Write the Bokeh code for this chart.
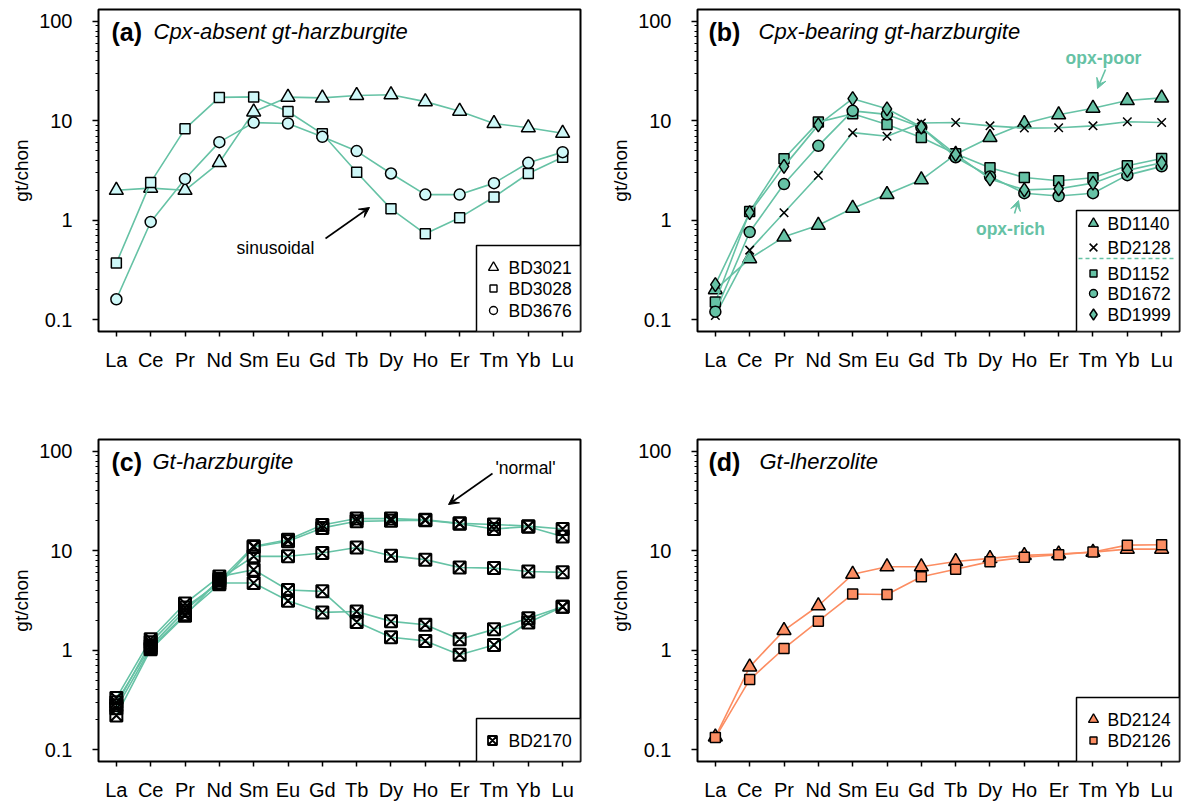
from bokeh.plotting import figure
from bokeh.layouts import gridplot
from bokeh.models import Range1d, FixedTicker, CustomJSTickFormatter, Arrow, VeeHead, Label
from bokeh.embed import file_html
from bokeh.resources import INLINE
from bokeh.core.properties import value

# ---------------------------------------------------------------- data
ELEMENTS = ["La", "Ce", "Pr", "Nd", "Sm", "Eu", "Gd", "Tb", "Dy", "Ho", "Er", "Tm", "Yb", "Lu"]
Y_TICKS = [0.1, 1, 10, 100]
Y_TICK_LABELS = ["0.1", "1", "10", "100"]

# (a) Cpx-absent gt-harzburgite
A_NAMES = ["BD3021", "BD3028", "BD3676"]
BD3021 = [2.0, 2.1, 2.0, 3.8, 12.3, 17.3, 17.0, 18.0, 18.3, 15.6, 12.5, 9.4, 8.5, 7.5]
BD3028 = [0.37, 2.4, 8.3, 17.2, 17.4, 12.4, 7.4, 3.04, 1.30, 0.73, 1.06, 1.71, 2.95, 4.3]
BD3676 = [0.16, 0.96, 2.6, 6.1, 9.6, 9.4, 6.9, 4.96, 2.95, 1.81, 1.81, 2.36, 3.78, 4.84]

# (b) Cpx-bearing gt-harzburgite
B_NAMES = ["BD1140", "BD2128", "BD1152", "BD1672", "BD1999"]
BD1140 = [0.20, 0.41, 0.68, 0.89, 1.32, 1.82, 2.55, 4.6, 6.8, 9.4, 11.5, 13.4, 16.0, 17.0]
BD2128 = [0.11, 0.50, 1.19, 2.82, 7.6, 7.0, 9.5, 9.6, 8.9, 8.45, 8.5, 8.9, 9.8, 9.6]
BD1152 = [0.15, 1.22, 4.15, 9.7, 11.8, 9.2, 6.8, 4.66, 3.37, 2.69, 2.49, 2.67, 3.53, 4.18]
BD1672 = [0.12, 0.76, 2.31, 5.6, 12.6, 11.6, 8.6, 4.3, 2.75, 1.87, 1.75, 1.87, 2.84, 3.48]
BD1999 = [0.225, 1.19, 3.48, 9.1, 16.7, 13.2, 8.65, 4.6, 2.6, 2.02, 2.07, 2.36, 3.17, 3.78]

# (c) Gt-harzburgite, five garnets of one sample
C_NAME = "BD2170"
BD2170_G1 = [0.30, 1.10, 2.50, 5.0, 11.1, 12.9, 18.2, 21.1, 21.1, 20.5, 18.9, 18.4, 17.7, 16.6]
BD2170_G2 = [0.26, 1.05, 2.30, 4.6, 10.9, 12.5, 17.0, 19.8, 20.1, 20.3, 18.7, 16.6, 17.5, 13.9]
BD2170_G3 = [0.22, 1.02, 2.22, 5.2, 8.8, 8.8, 9.5, 10.8, 8.9, 8.15, 6.8, 6.7, 6.2, 6.07]
BD2170_G4 = [0.33, 1.29, 2.95, 5.5, 6.46, 4.03, 3.91, 1.92, 1.35, 1.24, 0.90, 1.13, 1.90, 2.74]
BD2170_G5 = [0.28, 1.20, 2.69, 4.74, 4.74, 3.14, 2.40, 2.45, 1.95, 1.80, 1.29, 1.62, 2.10, 2.74]

# (d) Gt-lherzolite
D_NAMES = ["BD2124", "BD2126"]
BD2124 = [0.134, 0.68, 1.58, 2.8, 5.8, 6.9, 6.9, 7.8, 8.4, 9.0, 9.3, 9.7, 10.4, 10.4]
BD2126 = [0.132, 0.506, 1.04, 1.96, 3.67, 3.64, 5.49, 6.51, 7.78, 8.6, 9.15, 9.73, 11.4, 11.5]

# ---------------------------------------------------------------- styling
FONT = "Liberation Sans"
TEAL = "#66C2A5"
PALE = "#CFF8F8"
ORANGE = "#FC8D62"

X_LO, X_HI = -0.52, 13.52
Y_LO_LOG, Y_HI_LOG = -1.12, 2.12
FRAME_W, FRAME_H = 482, 322
XS = list(range(len(ELEMENTS)))


def sx(px):
    """Horizontal offset in pixels from the left edge of the frame -> data x."""
    return X_LO + px / FRAME_W * (X_HI - X_LO)


def sy(py):
    """Vertical offset in pixels up from the bottom of the frame -> data y (log)."""
    return 10 ** (Y_LO_LOG + py / FRAME_H * (Y_HI_LOG - Y_LO_LOG))


def make_panel(width, height, border_left, border_right, border_bottom):
    p = figure(width=width, height=height, y_axis_type="log",
               x_range=Range1d(X_LO, X_HI),
               y_range=Range1d(10 ** Y_LO_LOG, 10 ** Y_HI_LOG),
               output_backend="svg", toolbar_location=None,
               min_border_left=border_left, min_border_right=border_right,
               min_border_top=9, min_border_bottom=border_bottom)
    p.xgrid.visible = False
    p.ygrid.visible = False
    p.outline_line_color = "black"
    p.outline_line_width = 2
    p.outline_line_alpha = 1
    p.background_fill_color = "white"
    p.border_fill_color = "white"

    xa = p.xaxis[0]
    xa.ticker = FixedTicker(ticks=XS)
    xa.major_label_overrides = {i: e for i, e in enumerate(ELEMENTS)}
    xa.axis_line_color = None
    xa.major_tick_in = 0
    xa.major_tick_out = 5
    xa.major_tick_line_width = 1.5
    xa.minor_tick_line_color = None
    xa.major_label_text_font = FONT
    xa.major_label_text_font_size = "20px"
    xa.major_label_text_color = "black"
    xa.major_label_standoff = 12

    ya = p.yaxis[0]
    minors = [m * 10 ** k for k in (-1, 0, 1) for m in range(2, 10)]
    ya.ticker = FixedTicker(ticks=Y_TICKS, minor_ticks=minors)
    ya.formatter = CustomJSTickFormatter(
        args=dict(labels=Y_TICK_LABELS),
        code="return labels[Math.round(Math.log10(tick)) + 1]")
    ya.axis_line_color = None
    ya.major_tick_in = 0
    ya.major_tick_out = 6
    ya.major_tick_line_width = 1.5
    ya.minor_tick_in = 0
    ya.minor_tick_out = 3
    ya.minor_tick_line_width = 1.2
    ya.major_label_text_font = FONT
    ya.major_label_text_font_size = "20px"
    ya.major_label_text_color = "black"
    ya.major_label_standoff = 20
    ya.axis_label = "gt/chon"
    ya.axis_label_text_font = FONT
    ya.axis_label_text_font_size = "19px"
    ya.axis_label_text_font_style = "normal"
    ya.axis_label_text_color = "black"
    ya.axis_label_standoff = 4
    return p


def draw_series(p, values, marker, size, fill, line_color, fill_alpha=1.0):
    p.line(XS, values, line_color=line_color, line_width=1.6)
    p.scatter(XS, values, marker=marker, size=size, fill_color=fill, fill_alpha=fill_alpha,
              line_color="black", line_width=1.5)


def add_title(p, tag, text, tag_px, text_px, top_px=22):
    p.add_layout(Label(x=sx(tag_px), y=sy(FRAME_H - top_px), text=tag, text_font=FONT,
                       text_font_size="25px", text_font_style="bold", text_color="black",
                       text_align="left", text_baseline="middle"))
    p.add_layout(Label(x=sx(text_px), y=sy(FRAME_H - top_px), text=text, text_font=FONT,
                       text_font_size="22px", text_font_style="italic", text_color="black",
                       text_align="left", text_baseline="middle"))


def draw_key(p, entries, box_left, box_top, rows, marker_px=396, text_px=410):
    p.quad(left=[sx(box_left)], right=[X_HI], bottom=[10 ** Y_LO_LOG], top=[sy(box_top)],
           fill_color="white", line_color="black", line_width=1.5)
    for (name, marker, size, fill, fill_alpha, lw), row in zip(entries, rows):
        p.scatter([sx(marker_px)], [sy(row)], marker=marker, size=size, fill_color=fill,
                  fill_alpha=fill_alpha, line_color="black", line_width=lw)
        p.text([sx(text_px)], [sy(row)], text=[name], text_font=value(FONT),
               text_font_size="17.5px", text_color="black",
               text_align="left", text_baseline="middle")


def note(p, text, px, py, color="black", style="normal"):
    p.add_layout(Label(x=sx(px), y=sy(py), text=text, text_font=FONT, text_font_size="17.5px",
                       text_font_style=style, text_color=color,
                       text_align="center", text_baseline="middle"))


def pointer(p, x0, y0, x1, y1, color="black"):
    p.add_layout(Arrow(end=VeeHead(size=10, fill_color=color, line_color=color, line_width=1),
                       x_start=sx(x0), y_start=sy(y0), x_end=sx(x1), y_end=sy(y1),
                       line_color=color, line_width=1.6))


# ---------------------------------------------------------------- (a)
pa = make_panel(590, 430, 98, 10, 99)
draw_series(pa, BD3021, "triangle", 14, PALE, TEAL)
draw_series(pa, BD3028, "square", 10, PALE, TEAL)
draw_series(pa, BD3676, "circle", 11, PALE, TEAL)
add_title(pa, "(a)", "Cpx-absent gt-harzburgite", 13, 55)
note(pa, "sinusoidal", 177, 84)
pointer(pa, 227, 93, 271, 124)
draw_key(pa, [(A_NAMES[0], "triangle", 10, "white", 1.0, 1.4),
              (A_NAMES[1], "square", 7, "white", 1.0, 1.4),
              (A_NAMES[2], "circle", 8, "white", 1.0, 1.4)],
         378, 86, [64, 43, 21], marker_px=395)

# ---------------------------------------------------------------- (b)
pb = make_panel(593, 430, 107, 4, 99)
draw_series(pb, BD1140, "triangle", 14, TEAL, TEAL)
draw_series(pb, BD2128, "x", 12, TEAL, TEAL)
draw_series(pb, BD1152, "square", 10, TEAL, TEAL)
draw_series(pb, BD1672, "circle", 11, TEAL, TEAL)
draw_series(pb, BD1999, "diamond", 14, TEAL, TEAL)
add_title(pb, "(b)", "Cpx-bearing gt-harzburgite", 11, 61)
note(pb, "opx-poor", 406, 274, TEAL, "bold")
pointer(pb, 408, 262, 400, 243, TEAL)
note(pb, "opx-rich", 313, 103, TEAL, "bold")
pointer(pb, 317, 118, 321, 131, TEAL)
draw_key(pb, [(B_NAMES[0], "triangle", 10, TEAL, 1.0, 1.4),
              (B_NAMES[1], "x", 11, TEAL, 1.0, 1.5),
              (B_NAMES[2], "square", 7, TEAL, 1.0, 1.4),
              (B_NAMES[3], "circle", 8, TEAL, 1.0, 1.4),
              (B_NAMES[4], "diamond", 11, TEAL, 1.0, 1.4)],
         379, 121, [108, 84, 58, 38, 17])
pb.segment(x0=[sx(381)], y0=[sy(73)], x1=[sx(478)], y1=[sy(73)],
           line_color=TEAL, line_width=1.5, line_dash="4 3")

# ---------------------------------------------------------------- (c)
pc = make_panel(590, 373, 98, 10, 42)
GARNETS = (BD2170_G1, BD2170_G2, BD2170_G3, BD2170_G4, BD2170_G5)
for garnet in GARNETS:
    pc.line(XS, garnet, line_color=TEAL, line_width=1.6)
for garnet in GARNETS:
    pc.scatter(XS, garnet, marker="square_x", size=12, fill_alpha=0,
               line_color="black", line_width=2.0)
add_title(pc, "(c)", "Gt-harzburgite", 13, 54)
note(pc, "'normal'", 427, 294)
pointer(pc, 394, 288, 350, 257)
draw_key(pc, [(C_NAME, "square_x", 9, "white", 0.0, 1.8)], 378, 43, [21], marker_px=394)

# ---------------------------------------------------------------- (d)
pd = make_panel(593, 373, 107, 4, 42)
draw_series(pd, BD2124, "triangle", 14, ORANGE, ORANGE)
draw_series(pd, BD2126, "square", 10, ORANGE, ORANGE)
add_title(pd, "(d)", "Gt-lherzolite", 11, 62)
draw_key(pd, [(D_NAMES[0], "triangle", 10, ORANGE, 1.0, 1.4),
              (D_NAMES[1], "square", 7, ORANGE, 1.0, 1.4)],
         379, 64, [42, 21])

grid = gridplot([[pa, pb], [pc, pd]], toolbar_location=None)

with open("out.html", "w") as f:
    f.write(file_html(grid, INLINE, "REE patterns"))
